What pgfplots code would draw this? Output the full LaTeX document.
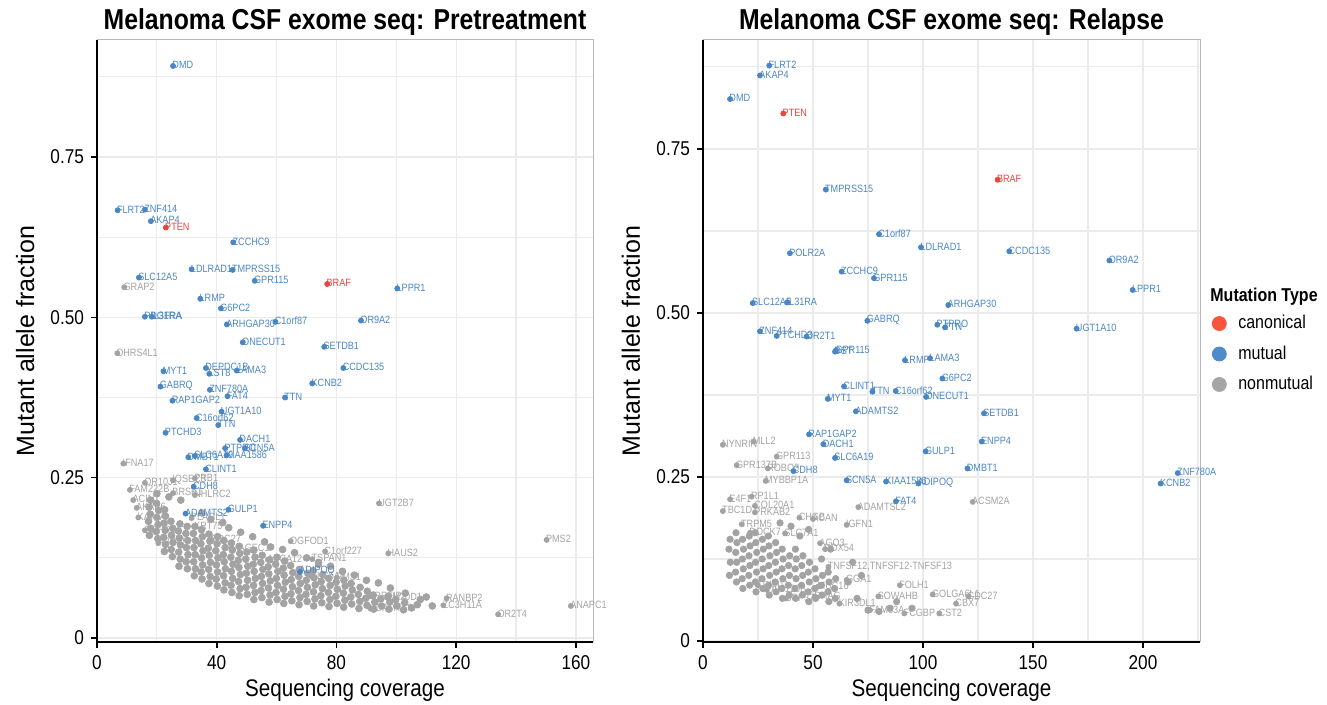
\documentclass[border=0pt]{standalone}
\usepackage{fontspec}
\setmainfont{Liberation Sans}[FakeStretch=0.86]
\newfontfamily\yfont{Liberation Sans}
\usepackage{pgfplots}
\pgfplotsset{compat=1.18}

\definecolor{canon}{HTML}{E8453C}
\definecolor{mutual}{HTML}{4A86C4}
\definecolor{nonmut}{HTML}{A3A3A3}
\definecolor{canonL}{HTML}{F9553A}
\definecolor{mutualL}{HTML}{4F8BC9}
\definecolor{nonmutL}{HTML}{A6A6A6}
\definecolor{gridc}{HTML}{EBEBEB}

\pgfplotsset{
  panel/.style={
    scale only axis, height=301pt,
    axis line style={draw=gray!55, line width=0.5pt},
    tick pos=left, tick align=outside,
    major tick length=3pt, minor tick length=0pt,
    tick style={black, line width=0.8pt},
    grid=both,
    major grid style={gridc, line width=0.6pt},
    minor grid style={gridc, line width=0.6pt},
    ticklabel style={font=\fontsize{10}{12}\selectfont, text=black},
    /pgf/number format/assume math mode=true,
    every axis title/.style={font=\bfseries\fontsize{14.4}{17}\selectfont, at={(axis description cs:0.5,1)}, anchor=base, yshift=5pt},
    xlabel style={font=\fontsize{12}{14}\selectfont, at={(axis description cs:0.5,-0.08)}, anchor=center},
    ylabel style={font=\yfont\fontsize{12.5}{15}\selectfont, at={(axis description cs:-0.145,0.5)}, anchor=center},
    xlabel={Sequencing coverage}, ylabel={Mutant allele fraction},
    ytick={0,0.25,0.5,0.75}, yticklabels={0,0.25,0.50,0.75},
    minor ytick={0.125,0.375,0.625,0.875},
  },
  pts/.style={only marks, mark=*, mark size=1.25pt, mark options={draw=#1, fill=#1}, forget plot},
  cloud/.style={only marks, mark=*, mark size=1.7pt, mark options={draw=#1, fill=#1}, forget plot},
  lbl/.style={pts=#1, nodes near coords, point meta=explicit symbolic,
    every node near coord/.append style={font=\fontsize{5.3}{6}\selectfont, text=#1, anchor=west, inner sep=0pt, xshift=-0.5pt, yshift=0.4pt}},
}

\begin{document}
\begin{tikzpicture}
\path[use as bounding box] (0,0) rectangle (663.5pt,352.5pt);

% ---------------- Pretreatment ----------------
\begin{axis}[panel, name=L, at={(48.5pt,31.5pt)}, anchor=south west,
  width=248pt, xmin=0, xmax=165.7, ymin=-0.0062, ymax=0.9325,
  xtick={0,40,80,120,160}, minor xtick={20,60,100,140},
  title={Melanoma CSF exome seq: Pretreatment}]
% dense cloud of nonmutual calls
\addplot[cloud=nonmut] coordinates {
(17.5,.160)(17.9,.171)(17.2,.182)(17.8,.193)(17.4,.204)(17.9,.215)
(20.3,.155)(19.8,.166)(20.4,.177)(20.0,.188)(20.6,.199)(19.9,.210)
(22.5,.135)(22.9,.146)(22.3,.157)(22.8,.168)(22.4,.179)(22.9,.190)(22.6,.200)
(25.2,.127)(24.8,.138)(25.4,.149)(24.9,.160)(25.3,.171)(24.7,.182)
(27.4,.112)(27.8,.123)(27.3,.134)(27.9,.145)(27.5,.156)(27.2,.167)(27.7,.178)
(30.2,.108)(29.8,.119)(30.4,.130)(29.9,.141)(30.3,.152)(29.7,.163)(30.1,.174)
(32.5,.097)(32.9,.108)(32.3,.119)(32.8,.130)(32.4,.141)(32.9,.152)(32.2,.163)(32.7,.174)
(35.1,.092)(34.8,.103)(35.3,.114)(34.9,.125)(35.4,.136)(34.7,.147)(35.2,.158)(34.9,.169)
(37.4,.085)(37.8,.096)(37.3,.107)(37.9,.118)(37.5,.129)(37.2,.140)(37.7,.151)(37.4,.162)
(40.2,.081)(39.8,.092)(40.3,.103)(39.9,.114)(40.4,.125)(39.7,.136)(40.1,.147)(40.3,.158)
(42.4,.075)(42.8,.086)(42.3,.097)(42.9,.108)(42.5,.119)(42.2,.130)(42.8,.141)(42.4,.152)
(45.1,.071)(44.8,.082)(45.3,.093)(44.9,.104)(45.4,.115)(44.7,.126)(45.2,.137)(44.9,.148)
(47.5,.066)(47.8,.077)(47.3,.088)(47.9,.099)(47.4,.110)(47.2,.121)(47.7,.132)(47.5,.143)
(50.2,.068)(49.8,.079)(50.3,.090)(49.9,.101)(50.4,.112)(49.7,.123)(50.1,.134)
(52.4,.060)(52.8,.071)(52.3,.082)(52.9,.093)(52.5,.104)(52.2,.115)(52.8,.126)(52.4,.137)
(55.1,.063)(54.8,.074)(55.3,.085)(54.9,.096)(55.4,.107)(54.7,.118)(55.2,.129)
(57.5,.056)(57.8,.067)(57.3,.078)(57.9,.089)(57.4,.100)(57.2,.111)(57.7,.122)
(60.2,.060)(59.8,.071)(60.3,.082)(59.9,.093)(60.4,.104)(59.7,.115)(60.1,.126)
(62.4,.054)(62.8,.065)(62.3,.076)(62.9,.087)(62.5,.098)(62.2,.109)(62.7,.120)
(65.1,.058)(64.8,.069)(65.3,.080)(64.9,.091)(65.4,.102)(64.7,.113)
(67.5,.052)(67.8,.063)(67.3,.074)(67.9,.085)(67.4,.096)(67.6,.107)
(70.2,.057)(69.8,.068)(70.3,.079)(69.9,.090)(70.4,.101)
(72.4,.050)(72.8,.061)(72.3,.072)(72.9,.083)(72.5,.094)(72.2,.105)
(75.1,.055)(74.8,.066)(75.3,.077)(74.9,.088)(75.4,.099)
(77.5,.049)(77.8,.060)(77.3,.071)(77.9,.082)(77.4,.093)
(80.2,.054)(79.8,.065)(80.3,.076)(79.9,.087)
(82.4,.048)(82.8,.059)(82.3,.070)(82.9,.081)(82.5,.090)
(85.1,.053)(84.8,.064)(85.3,.075)(84.9,.085)
(87.5,.046)(87.8,.057)(87.3,.068)(87.9,.079)
(90.2,.051)(89.8,.062)(90.3,.073)
(92.4,.045)(92.8,.056)(92.3,.067)
(95.1,.050)(94.8,.061)
(97.5,.045)(97.8,.056)(97.3,.065)
(100.2,.050)(99.8,.060)
(102.4,.044)(102.8,.055)
(105.1,.047)
(20.0,.225)(24.0,.220)(28.0,.215)(35.0,.195)(38.0,.185)(42.0,.180)(44.0,.172)
(48.0,.165)(52.0,.158)(56.0,.150)(58.0,.142)(62.0,.138)(66.0,.133)(70.0,.125)
(74.0,.118)(78.0,.112)(82.0,.104)(86.0,.098)(90.0,.090)(94.0,.086)(98.0,.078)
(103.0,.070)(108.0,.060)(112.0,.050)(110.0,.064)(107.0,.052)(74.0,.115)
};
\addplot[lbl=nonmut] table[meta=label] {
x y label
9.1 0.547 GRAP2
6.8 0.444 DHRS4L1
8.8 0.272 IFNA17
11.0 0.231 FAM222B
16.0 0.242 OR10J1
25.4 0.246 IQSEC3
32.7 0.249 PRB1
25.4 0.226 BRSK1
32.7 0.223 NHLRC2
12.1 0.215 ACIN1
13.3 0.203 AKAP6
13.8 0.188 KAT6A
16.0 0.168 CDHR2
20.5 0.148 ABCB5
31.6 0.187 PLAGL1
32.7 0.174 KRT75
38.3 0.153 CDC27
45.0 0.140 MAGEC1
57.1 0.122 ABCA12
64.7 0.151 OGFOD1
94.2 0.210 UGT2B7
150.2 0.153 PMS2
97.3 0.132 HAUS2
76.2 0.135 C1orf227
71.9 0.123 TSPAN1
71.7 0.096 SLC5A2
80.1 0.094 PMS1
91.2 0.065 LRRFIP2
96.9 0.063 PM20D1
91.3 0.046 ADAMTS9
116.8 0.062 RANBP2
115.7 0.051 ZC3H11A
134.0 0.037 OR2T4
158.3 0.050 ANAPC1
};
\addplot[lbl=mutual] table[meta=label] {
x y label
25.4 0.892 DMD
6.9 0.667 FLRT2
16.0 0.668 ZNF414
18.0 0.650 AKAP4
45.5 0.617 ZCCHC9
31.6 0.575 LDLRAD1
45.3 0.574 TMPRSS15
14.0 0.562 SLC12A5
52.7 0.557 GPR115
34.5 0.529 LRMP
41.4 0.514 G6PC2
16.0 0.501 PDGFRA
18.3 0.501 IL31RA
43.4 0.489 ARHGAP30
59.6 0.493 C1orf87
48.7 0.461 ONECUT1
75.9 0.454 SETDB1
88.2 0.495 OR9A2
100.3 0.545 LPPR1
82.3 0.421 CCDC135
71.9 0.397 KCNB2
62.8 0.375 TTN
22.2 0.416 MYT1
36.4 0.421 DEPDC1B
46.7 0.417 LAMA3
37.5 0.412 LST8
21.2 0.392 GABRQ
37.7 0.387 ZNF780A
43.6 0.377 FAT4
25.2 0.370 RAP1GAP2
33.3 0.343 C16orf62
41.6 0.353 UGT1A10
40.5 0.332 TTN
22.9 0.320 PTCHD3
47.8 0.309 DACH1
42.8 0.296 PTPRO
49.4 0.296 SCN5A
30.5 0.282 DMBT1
32.7 0.284 SLC6A19
43.3 0.285 KIAA1586
36.4 0.263 CLINT1
32.3 0.236 CDH8
29.6 0.194 ADAMTS2
43.9 0.200 GULP1
55.5 0.175 ENPP4
67.8 0.103 ADIPOQ
};
\addplot[lbl=canon] table[meta=label] {
x y label
23.0 0.640 PTEN
76.9 0.552 BRAF
};
\end{axis}
\draw[black, line width=0.9pt] (L.north west) -- (L.south west) -- (L.south east);

% ---------------- Relapse ----------------
\begin{axis}[panel, name=R, at={(351.5pt,31.5pt)}, anchor=south west,
  width=248.5pt, xmin=0, xmax=225.9, ymin=-0.0015, ymax=0.916,
  xtick={0,50,100,150,200}, minor xtick={25,75,125,175,225},
  title={Melanoma CSF exome seq: Relapse},
  legend style={at={(axis description cs:1.024,0.55)}, anchor=north west,
    draw=none, fill=none, inner sep=0pt, row sep=3pt,
    font=\fontsize{9.3}{11}\selectfont,
    /tikz/every odd column/.append style={column sep=4pt}},
  legend cell align=left]
\addplot[cloud=nonmut, mark size=1.6pt] coordinates {
(12.0,.100)(12.4,.120)(11.8,.140)(12.3,.155)
(15.2,.090)(14.8,.105)(15.3,.120)(14.9,.135)(15.4,.150)(15.0,.165)
(18.1,.080)(17.8,.095)(18.3,.110)(17.9,.125)(18.4,.140)(18.0,.155)
(21.2,.085)(20.8,.100)(21.3,.115)(20.9,.130)(21.4,.145)(21.0,.160)
(24.1,.075)(23.8,.090)(24.3,.105)(23.9,.120)(24.4,.135)(24.0,.150)(23.7,.165)
(27.2,.080)(26.8,.095)(27.3,.110)(26.9,.125)(27.4,.140)(27.0,.155)
(30.1,.070)(29.8,.085)(30.3,.100)(29.9,.115)(30.4,.130)(30.0,.145)(29.7,.160)
(33.2,.075)(32.8,.090)(33.3,.105)(32.9,.120)(33.4,.135)(33.0,.150)
(36.1,.065)(35.8,.080)(36.3,.095)(35.9,.110)(36.4,.125)(36.0,.140)
(39.2,.070)(38.8,.085)(39.3,.100)(38.9,.115)(39.4,.130)
(42.1,.065)(41.8,.080)(42.3,.095)(41.9,.110)(42.4,.125)(42.0,.140)
(45.2,.070)(44.8,.085)(45.3,.100)(44.9,.115)(45.4,.130)
(48.1,.060)(47.8,.075)(48.3,.090)(47.9,.105)(48.4,.120)
(51.2,.065)(50.8,.080)(51.3,.095)(50.9,.110)
(54.1,.070)(53.8,.085)(54.3,.100)(53.9,.125)
(57.2,.060)(56.8,.075)(57.3,.090)(56.9,.105)
(60.1,.065)(59.8,.080)(60.3,.095)
(66.0,.090)(70.0,.065)(75.0,.047)(80.0,.045)(85.0,.050)(88.0,.060)(95.0,.050)
(68.0,.120)(72.0,.100)(58.0,.140)(44.0,.160)(40.0,.175)(35.0,.180)(48.0,.170)
};
\addplot[lbl=nonmut] table[meta=label] {
x y label
9.0 0.299 NYNRIN
22.9 0.304 MLL2
33.5 0.281 GPR113
15.3 0.268 GPR137B
29.5 0.263 ROBO3
28.5 0.244 MYBBP1A
122.6 0.212 ACSM2A
70.6 0.204 ADAMTSL2
65.3 0.177 IGFN1
12.3 0.216 E4F1
22.1 0.220 RP1L1
9.0 0.198 TBC1D2
23.6 0.206 COL20A1
23.6 0.196 PRKAB2
43.8 0.188 CHGB
50.0 0.186 ACAN
17.6 0.178 TRPM5
21.4 0.165 DOCK7
37.3 0.164 SLC7A1
53.2 0.149 AGO3
55.5 0.140 DDX54
57.0 0.113 TNFSF12,TNFSF12-TNFSF13
89.5 0.085 FOLH1
104.4 0.071 GOLGA6L1
120.6 0.068 CDC27
115.0 0.057 CBX7
107.4 0.042 CST2
91.5 0.042 FCGBP
75.9 0.047 FAM83A
79.7 0.068 SOWAHB
62.0 0.057 KIR3DL1
37.7 0.065 USP37
50.9 0.068 RHAG
29.0 0.078 FAM120B
24.9 0.085 TRIM11
52.4 0.083 MUC16
65.3 0.093 GGA1
};
\addplot[lbl=mutual] table[meta=label] {
x y label
30.1 0.877 FLRT2
25.9 0.862 AKAP4
12.3 0.826 DMD
55.8 0.688 TMPRSS15
80.0 0.620 C1orf87
99.1 0.600 LDLRAD1
39.5 0.591 POLR2A
63.0 0.563 ZCCHC9
77.7 0.553 GPR115
139.2 0.594 CCDC135
184.7 0.580 OR9A2
195.3 0.535 LPPR1
169.8 0.476 UGT1A10
22.6 0.515 SLC12A5
38.3 0.516 IL31RA
111.5 0.512 ARHGAP30
74.7 0.488 GABRQ
106.5 0.482 PTPRO
110.0 0.478 TTN
25.9 0.472 ZNF414
33.5 0.465 PTCHD3
47.1 0.464 OR2T1
60.0 0.441 DST
60.5 0.443 GPR115
91.8 0.428 LRMP
103.2 0.431 LAMA3
108.8 0.400 G6PC2
64.1 0.388 CLINT1
77.0 0.380 TTN
87.6 0.381 C16orf62
101.4 0.372 ONECUT1
56.7 0.369 MYT1
69.5 0.350 ADAMTS2
127.7 0.347 SETDB1
48.2 0.315 RAP1GAP2
54.7 0.300 DACH1
126.7 0.304 ENPP4
101.2 0.289 GULP1
60.0 0.279 SLC6A19
41.1 0.259 CDH8
120.2 0.263 DMBT1
65.3 0.245 SCN5A
83.2 0.243 KIAA1586
97.9 0.240 ADIPOQ
87.7 0.213 FAT4
215.8 0.256 ZNF780A
208.0 0.240 KCNB2
};
\addplot[lbl=canon] table[meta=label] {
x y label
36.5 0.804 PTEN
133.9 0.703 BRAF
};
\addlegendimage{only marks, mark=*, mark size=3.5pt, mark options={draw=canonL, fill=canonL}}
\addlegendentry{canonical}
\addlegendimage{only marks, mark=*, mark size=3.5pt, mark options={draw=mutualL, fill=mutualL}}
\addlegendentry{mutual}
\addlegendimage{only marks, mark=*, mark size=3.5pt, mark options={draw=nonmutL, fill=nonmutL}}
\addlegendentry{nonmutual}
\end{axis}
\draw[black, line width=0.9pt] (R.north west) -- (R.south west) -- (R.south east);
\node[anchor=west, font=\bfseries\fontsize{9.3}{11}\selectfont, inner sep=0pt] at (605pt,204pt) {Mutation Type};
\end{tikzpicture}
\end{document}
